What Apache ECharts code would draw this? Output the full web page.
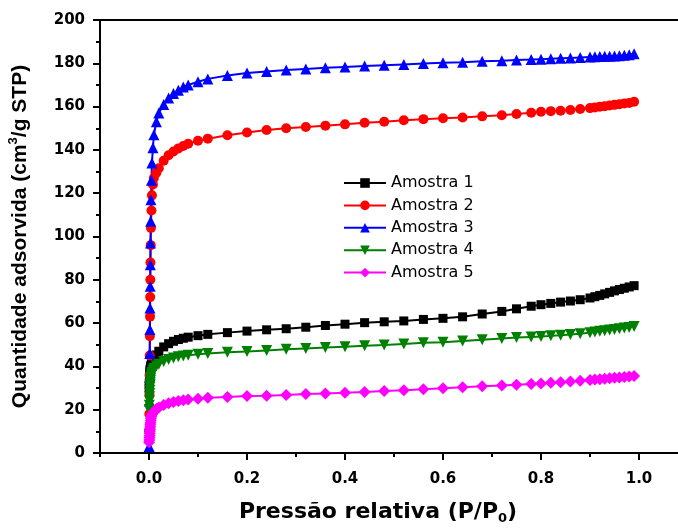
<!DOCTYPE html>
<html>
<head>
<meta charset="utf-8">
<script src="https://cdn.jsdelivr.net/npm/echarts@6/dist/echarts.min.js"></script>
<style>
  html, body { margin: 0; padding: 0; background: #fff; }
  #chart { width: 678px; height: 529px; }
</style>
</head>
<body>
<div id="chart"></div>
<script>
// relative pressure P/P0 (shared by all samples)
const pressao = [
  0.0003, 0.0006, 0.0009, 0.0012, 0.0015, 0.0018, 0.0021, 0.0024, 0.0027, 0.003, 0.0035, 0.004, 0.005, 0.006, 0.008,
  0.01, 0.015, 0.02, 0.03, 0.04, 0.05, 0.06, 0.07, 0.08, 0.1, 0.12,
  0.16, 0.2, 0.24, 0.28, 0.32, 0.36, 0.4, 0.44, 0.48, 0.52, 0.56, 0.6, 0.64, 0.68,
  0.72, 0.75, 0.78, 0.8, 0.82, 0.84, 0.86, 0.88, 0.9, 0.91, 0.92, 0.93, 0.94, 0.95, 0.96, 0.97, 0.98, 0.99
];

// adsorbed quantity (cm3/g STP)
const amostra1 = [
  30, 32, 34, 35, 36, 37, 38, 38.5, 39, 39.5, 40, 40.5, 41, 41.5, 42,
  43, 45.3, 47, 49, 50.5, 51.6, 52.4, 53, 53.5, 54.2, 54.8,
  55.6, 56.3, 56.9, 57.4, 58.1, 58.9, 59.5, 60.2, 60.6, 61, 61.7, 62.2, 62.9, 64.2,
  65.4, 66.6, 67.8, 68.5, 69.1, 69.7, 70.2, 70.8, 71.6, 72.2, 72.8, 73.5, 74.2, 74.9, 75.5, 76.1, 76.7, 77.3
];
const amostra2 = [
  10, 18, 27, 36, 45, 54, 63, 72, 80, 88, 96, 104, 112, 119, 124,
  127, 129.5, 131.5, 135, 137.5, 139.3, 140.7, 141.8, 142.8, 144.2, 145.2,
  146.8, 148, 149.2, 150, 150.6, 151.2, 151.8, 152.5, 153, 153.7, 154.2, 154.6, 155, 155.5,
  156, 156.6, 157.2, 157.6, 157.9, 158.1, 158.4, 158.9, 159.3, 159.6, 159.9, 160.2, 160.5, 160.8, 161.1, 161.4, 161.7, 162.2
];
const amostra3 = [
  3, 13, 24, 35, 46, 57, 67, 77, 87, 97, 107, 117, 126, 134, 141,
  147, 153, 157, 161, 164, 166, 167.5, 169, 170, 171.5, 172.8,
  174.4, 175.5, 176.2, 176.9, 177.4, 177.9, 178.3, 178.7, 179.1, 179.5, 179.9, 180.2, 180.5, 180.9,
  181.2, 181.5, 181.7, 181.9, 182.1, 182.3, 182.5, 182.7, 182.9, 183, 183.1, 183.2, 183.3, 183.4, 183.5, 183.7, 183.9, 184.4
];
const amostra4 = [
  20, 22, 24, 26, 27.5, 29, 30.5, 31.5, 32.5, 33.5, 34.5, 35.5, 36.5, 37.3, 38.2,
  39, 40.2, 41, 42.3, 43.2, 43.9, 44.4, 44.8, 45.1, 45.6, 46,
  46.5, 46.9, 47.4, 47.9, 48.3, 48.7, 49.1, 49.5, 49.9, 50.4, 50.9, 51.2, 51.7, 52.3,
  52.9, 53.3, 53.6, 53.8, 54.1, 54.4, 54.7, 55.1, 55.6, 55.9, 56.2, 56.5, 56.8, 57.1, 57.4, 57.7, 58, 58.4
];
const amostra5 = [
  5, 6, 7, 8, 9, 10, 11, 12, 13, 14, 15, 16, 17, 17.8, 18.5,
  19.2, 20.3, 21, 22.2, 23, 23.6, 24, 24.4, 24.7, 25.1, 25.5,
  25.9, 26.3, 26.5, 26.8, 27.2, 27.5, 27.8, 28.2, 28.6, 29, 29.4, 29.9, 30.4, 30.8,
  31.2, 31.5, 31.9, 32.1, 32.4, 32.7, 33, 33.4, 33.7, 33.9, 34.1, 34.3, 34.5, 34.7, 34.9, 35.1, 35.3, 35.6
];

const nomes = ["Amostra 1", "Amostra 2", "Amostra 3", "Amostra 4", "Amostra 5"];
const xMajorTicks = [0, 0.2, 0.4, 0.6, 0.8, 1.0];
const xMinorTicks = [-0.1, 0.1, 0.3, 0.5, 0.7, 0.9, 1.1];

const fonte = "Liberation Sans, Arial, sans-serif";
const fonteLarga = "DejaVu Sans, Liberation Sans, sans-serif";
const cores = ["#000000", "#ff0000", "#0000ff", "#008000", "#ff00ff"];
const simbolos = ["rect", "circle", "triangle", "triangle", "diamond"];
const rotacoes = [0, 0, 0, 180, 0];
const tamanhos = [9, 10, 11, 11, 12];
const valores = [amostra1, amostra2, amostra3, amostra4, amostra5];

const chart = echarts.init(document.getElementById("chart"));

const series = nomes.map((nome, i) => ({
  name: nome,
  type: "line",
  xAxisIndex: 0,
  yAxisIndex: 0,
  data: pressao.map((p, k) => [p, valores[i][k]]),
  symbol: simbolos[i],
  symbolRotate: rotacoes[i],
  symbolSize: tamanhos[i],
  showAllSymbol: true,
  lineStyle: { color: cores[i], width: 2 },
  itemStyle: { color: cores[i] },
  animation: false
}));

chart.setOption({
  backgroundColor: "#fff",
  animation: false,
  textStyle: { fontFamily: fonte },
  grid: { left: 100, top: 20, width: 588, height: 433, containLabel: false, outerBoundsMode: "none" },
  legend: {
    data: nomes,
    orient: "vertical",
    left: 343,
    top: 175,
    padding: 0,
    itemWidth: 42,
    itemHeight: 12,
    itemGap: 6.4,
    textStyle: { fontFamily: fonteLarga, fontSize: 16, lineHeight: 15, color: "#000" }
  },
  xAxis: [
    {
      type: "value",
      min: -0.1,
      max: 1.1,
      position: "bottom",
      splitLine: { show: false },
      axisLine: { onZero: false, lineStyle: { color: "#000", width: 2 } },
      axisTick: { inside: false, length: 7, lineStyle: { color: "#000", width: 2 }, customValues: xMajorTicks },
      axisLabel: {
        customValues: xMajorTicks,
        formatter: v => v.toFixed(1),
        color: "#000", fontSize: 15, fontWeight: "bold", fontFamily: fonteLarga, margin: 19
      },
      name: "{a|Pressão relativa (P/P}{s|0}{a|)}",
      nameLocation: "middle",
      nameGap: 46,
      nameTextStyle: {
        padding: [0, 32, 0, 0],
        rich: {
          a: { fontSize: 22, fontWeight: "bold", fontFamily: fonteLarga, color: "#000", lineHeight: 26 },
          s: { fontSize: 13, fontWeight: "bold", fontFamily: fonteLarga, color: "#000", lineHeight: 26, verticalAlign: "bottom", padding: [10, 0, 0, 0] }
        }
      }
    },
    {
      type: "value",
      min: -0.1,
      max: 1.1,
      position: "bottom",
      splitLine: { show: false },
      axisLine: { show: false, onZero: false },
      axisTick: { length: 4, lineStyle: { color: "#000", width: 2 }, customValues: xMinorTicks },
      axisLabel: { show: false }
    },
    {
      type: "value",
      min: -0.1,
      max: 1.1,
      position: "top",
      splitLine: { show: false },
      axisLine: { onZero: false, lineStyle: { color: "#000", width: 2 } },
      axisTick: { show: false },
      axisLabel: { show: false }
    }
  ],
  yAxis: [
    {
      type: "value",
      min: 0,
      max: 200,
      interval: 20,
      splitLine: { show: false },
      axisLine: { show: true, onZero: false, lineStyle: { color: "#000", width: 2 } },
      axisTick: { show: true, length: 7, lineStyle: { color: "#000", width: 2 } },
      minorTick: { show: true, splitNumber: 2, length: 4, lineStyle: { color: "#000", width: 2 } },
      axisLabel: { color: "#000", fontSize: 15, fontWeight: "bold", fontFamily: fonteLarga, margin: 15 },
      name: "{a|Quantidade adsorvida (cm}{p|3}{a|/g STP)}",
      nameLocation: "middle",
      nameGap: 67,
      nameTextStyle: {
        rich: {
          a: { fontSize: 21, fontWeight: "bold", fontFamily: fonte, color: "#000", lineHeight: 26 },
          p: { fontSize: 13, fontWeight: "bold", fontFamily: fonte, color: "#000", lineHeight: 26, verticalAlign: "top", padding: [0, 0, 10, 0] }
        }
      }
    }
  ],
  series: series
});
</script>
</body>
</html>
